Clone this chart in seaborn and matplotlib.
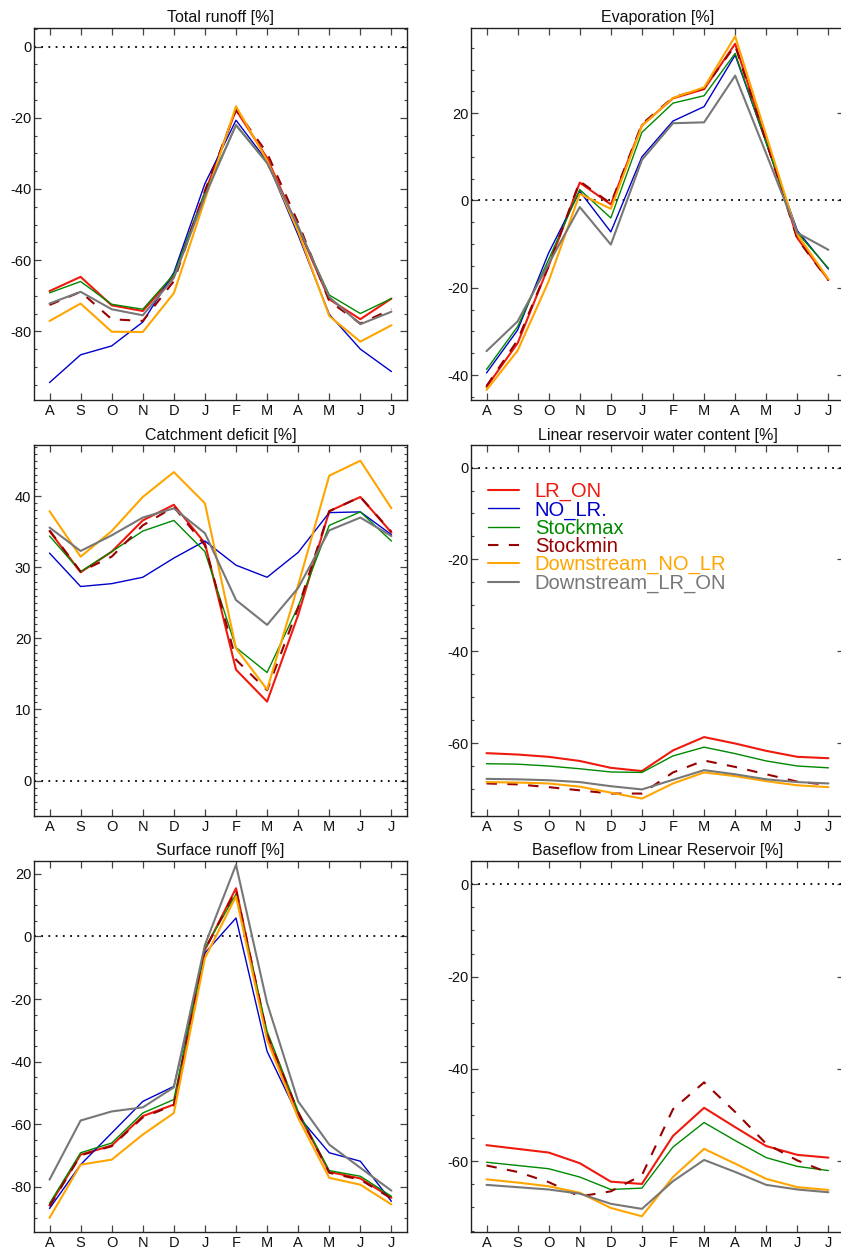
import numpy as np
import pandas as pd
import matplotlib
matplotlib.use("Agg")
import matplotlib.pyplot as plt
from matplotlib.lines import Line2D
from matplotlib.ticker import MultipleLocator
import seaborn as sns

# --- DATA ---
months = ['A', 'S', 'O', 'N', 'D', 'J', 'F', 'M', 'A', 'M', 'J', 'J']
series_names = ['LR_ON', 'NO_LR.', 'Stockmax', 'Stockmin', 'Downstream_NO_LR', 'Downstream_LR_ON']
nan = np.nan

# Total runoff [%]
total_lr_on = [-68.7, -64.7, -72.7, -74.3, -64.5, -41.0, -17.8, -31.3, -51.0, -71.0, -76.6, -70.8]
total_no_lr = [-94.4, -86.6, -84.1, -77.4, -63.5, -38.5, -20.7, -32.2, -53.0, -75.2, -85.0, -91.3]
total_stockmax = [-69.2, -66.0, -72.4, -73.8, -64.0, -41.0, -22.2, -32.7, -51.0, -69.8, -75.0, -70.8]
total_stockmin = [-72.6, -68.9, -76.6, -77.1, -65.9, -40.5, -17.8, -29.9, -49.5, -71.5, -77.8, -73.8]
total_ds_no_lr = [-77.1, -72.2, -80.1, -80.2, -69.3, -43.0, -16.8, -32.0, -52.0, -75.7, -82.9, -78.3]
total_ds_lr_on = [-72.2, -68.9, -73.8, -75.5, -65.0, -42.0, -22.0, -32.7, -50.5, -70.4, -78.0, -74.5]

# Evaporation [%]
evap_lr_on = [-42.7, -32.7, -15.0, 4.1, -0.9, 17.2, 23.4, 25.5, 35.9, 13.7, -8.6, -18.2]
evap_no_lr = [-39.5, -29.7, -12.0, 2.1, -7.2, 10.0, 18.2, 21.5, 33.3, 13.2, -6.9, -15.7]
evap_stockmax = [-38.7, -28.9, -13.5, 2.5, -4.0, 15.6, 22.3, 24.0, 33.7, 13.2, -7.4, -15.5]
evap_stockmin = [-42.5, -32.0, -15.0, 4.4, -0.7, 17.5, 23.6, 25.7, 35.5, 13.5, -8.8, -18.3]
evap_ds_no_lr = [-43.4, -34.4, -18.5, 1.5, -1.9, 17.1, 23.5, 25.9, 37.6, 14.9, -7.8, -18.0]
evap_ds_lr_on = [-34.5, -27.7, -14.5, -1.5, -10.1, 9.3, 17.7, 17.9, 28.6, 10.7, -7.4, -11.3]

# Catchment deficit [%]
deficit_lr_on = [35.1, 29.3, 32.2, 36.6, 38.8, 33.4, 15.6, 11.1, 23.3, 37.9, 39.9, 34.9]
deficit_no_lr = [32.0, 27.3, 27.7, 28.6, 31.3, 33.7, 30.3, 28.6, 32.1, 37.7, 37.8, 34.6]
deficit_stockmax = [34.4, 29.4, 32.2, 35.1, 36.6, 32.2, 18.7, 15.2, 24.5, 35.9, 37.8, 33.7]
deficit_stockmin = [35.2, 29.4, 31.5, 35.9, 38.5, 33.1, 17.0, 12.7, 24.3, 37.9, 39.9, 35.0]
deficit_ds_no_lr = [37.9, 31.5, 35.1, 39.9, 43.4, 39.0, 18.6, 12.8, 27.5, 42.9, 45.0, 38.3]
deficit_ds_lr_on = [35.6, 32.3, 34.5, 37.0, 38.3, 34.8, 25.4, 21.9, 27.1, 35.2, 37.0, 34.4]

# Linear reservoir water content [%]  (no reservoir in NO_LR run)
lrwc_lr_on = [-62.2, -62.5, -63.0, -63.9, -65.4, -66.1, -61.6, -58.7, -60.1, -61.7, -63.0, -63.3]
lrwc_no_lr = [nan] * 12
lrwc_stockmax = [-64.5, -64.6, -65.0, -65.6, -66.3, -66.4, -62.8, -60.9, -62.3, -63.9, -65.0, -65.4]
lrwc_stockmin = [-68.8, -69.0, -69.6, -70.3, -71.0, -71.0, -66.4, -63.8, -65.2, -66.8, -68.4, -69.1]
lrwc_ds_no_lr = [-68.5, -68.6, -68.8, -69.5, -70.8, -72.1, -68.8, -66.4, -67.2, -68.3, -69.2, -69.6]
lrwc_ds_lr_on = [-67.8, -67.9, -68.1, -68.5, -69.4, -70.1, -68.0, -65.9, -66.8, -67.9, -68.5, -68.8]

# Surface runoff [%]
surf_lr_on = [-85.9, -69.7, -66.8, -57.4, -53.7, -4.3, 15.4, -31.9, -56.4, -75.2, -77.3, -83.5]
surf_no_lr = [-86.9, -72.9, -62.8, -52.7, -47.9, -5.3, 5.9, -36.7, -57.4, -69.1, -71.8, -84.6]
surf_stockmax = [-85.3, -69.1, -66.0, -56.4, -52.1, -3.7, 13.5, -30.3, -55.9, -74.8, -76.6, -83.0]
surf_stockmin = [-86.2, -69.9, -67.0, -57.8, -53.9, -4.3, 14.9, -31.4, -56.2, -75.5, -77.7, -83.7]
surf_ds_no_lr = [-89.9, -72.9, -71.3, -63.3, -56.4, -6.9, 12.8, -33.0, -58.0, -77.1, -79.3, -85.6]
surf_ds_lr_on = [-77.7, -58.8, -55.9, -54.6, -48.2, -2.7, 22.9, -21.3, -52.7, -66.5, -73.9, -81.2]

# Baseflow from Linear Reservoir [%]
base_lr_on = [-56.5, -57.3, -58.1, -60.4, -64.4, -64.9, -54.5, -48.4, -52.6, -56.7, -58.6, -59.2]
base_no_lr = [nan] * 12
base_stockmax = [-60.2, -60.9, -61.6, -63.4, -66.1, -65.8, -56.9, -51.6, -55.5, -59.2, -61.1, -62.0]
base_stockmin = [-60.9, -62.3, -64.5, -67.6, -66.5, -63.0, -48.7, -42.9, -49.3, -56.2, -59.8, -62.5]
base_ds_no_lr = [-63.9, -64.6, -65.4, -66.8, -70.1, -71.9, -63.4, -57.3, -60.5, -63.8, -65.6, -66.2]
base_ds_lr_on = [-65.1, -65.6, -66.1, -67.0, -69.2, -70.3, -64.3, -59.7, -62.3, -65.1, -66.1, -66.7]

# --- STYLE ---
colors = ['#ee1a0e', '#0000cc', '#008800', '#990000', '#ffa500', '#777777']
widths = [1.5, 1.0, 1.0, 1.5, 1.5, 1.5]
styles = ['-', '-', '-', (0, (5, 5)), '-', '-']

sns.set_style("ticks")
plt.rcParams['font.family'] = ['Liberation Sans', 'DejaVu Sans']
plt.rcParams['axes.unicode_minus'] = False

panels = [
    # title, series, ylim, major, minor, [left, bottom, width, height]
    ("Total runoff [%]",
     [total_lr_on, total_no_lr, total_stockmax, total_stockmin, total_ds_no_lr, total_ds_lr_on],
     (-99.3, 5.2), 20, 5, [0.0404, 0.6805, 0.4435, 0.2971]),
    ("Evaporation [%]",
     [evap_lr_on, evap_no_lr, evap_stockmax, evap_stockmin, evap_ds_no_lr, evap_ds_lr_on],
     (-45.7, 39.5), 20, 5, [0.5600, 0.6805, 0.4435, 0.2971]),
    ("Catchment deficit [%]",
     [deficit_lr_on, deficit_no_lr, deficit_stockmax, deficit_stockmin, deficit_ds_no_lr, deficit_ds_lr_on],
     (-5.0, 47.2), 10, 1, [0.0404, 0.3482, 0.4435, 0.2963]),
    ("Linear reservoir water content [%]",
     [lrwc_lr_on, lrwc_no_lr, lrwc_stockmax, lrwc_stockmin, lrwc_ds_no_lr, lrwc_ds_lr_on],
     (-75.9, 4.9), 20, 5, [0.5600, 0.3482, 0.4435, 0.2963]),
    ("Surface runoff [%]",
     [surf_lr_on, surf_no_lr, surf_stockmax, surf_stockmin, surf_ds_no_lr, surf_ds_lr_on],
     (-94.4, 24.1), 20, 5, [0.0404, 0.0160, 0.4435, 0.2963]),
    ("Baseflow from Linear Reservoir [%]",
     [base_lr_on, base_no_lr, base_stockmax, base_stockmin, base_ds_no_lr, base_ds_lr_on],
     (-75.3, 5.05), 20, 5, [0.5600, 0.0160, 0.4435, 0.2963]),
]

fig = plt.figure(figsize=(8.41, 12.52), dpi=100)
xpos = np.arange(len(months))

for i, (title, series, ylim, major, minor, rect) in enumerate(panels):
    ax = fig.add_axes(rect)
    ax.axhline(0, color='black', lw=1.3, ls=(0, (1, 3)), zorder=1)
    for vals, c, w, s in zip(series, colors, widths, styles):
        if np.all(np.isnan(vals)):
            continue
        sns.lineplot(x=xpos, y=vals, ax=ax, color=c, lw=w, linestyle=s, legend=False)
    ax.set_xlim(-0.5, 11.5)
    ax.set_ylim(*ylim)
    ax.set_xticks(xpos)
    ax.set_xticklabels(months)
    ax.yaxis.set_major_locator(MultipleLocator(major))
    ax.yaxis.set_minor_locator(MultipleLocator(minor))
    ax.set_xlabel("")
    ax.set_ylabel("")
    ax.tick_params(axis='both', which='both', direction='in', top=True, right=True,
                   color='#444444', labelsize=10.5, labelcolor='#111111')
    ax.tick_params(axis='both', which='major', length=5, width=0.9)
    ax.tick_params(axis='y', which='minor', length=2.5, width=0.8)
    ax.tick_params(axis='x', which='major', pad=3)
    ax.tick_params(axis='y', which='major', pad=2)
    for sp in ax.spines.values():
        sp.set_color('#222222')
        sp.set_linewidth(1.0)
    ax.set_title(title, fontsize=11.5, pad=4, color='#111111')

    if i == 3:
        handles = [Line2D([], [], color=c, lw=w, ls=s) for c, w, s in zip(colors, widths, styles)]
        ax.legend(handles, series_names, loc='upper left', bbox_to_anchor=(0.02, 0.928),
                  frameon=False, fontsize=14.5, handlelength=1.5, handletextpad=0.8,
                  labelspacing=-0.04, borderpad=0, labelcolor='linecolor')

plt.savefig('out.png', dpi=100)
